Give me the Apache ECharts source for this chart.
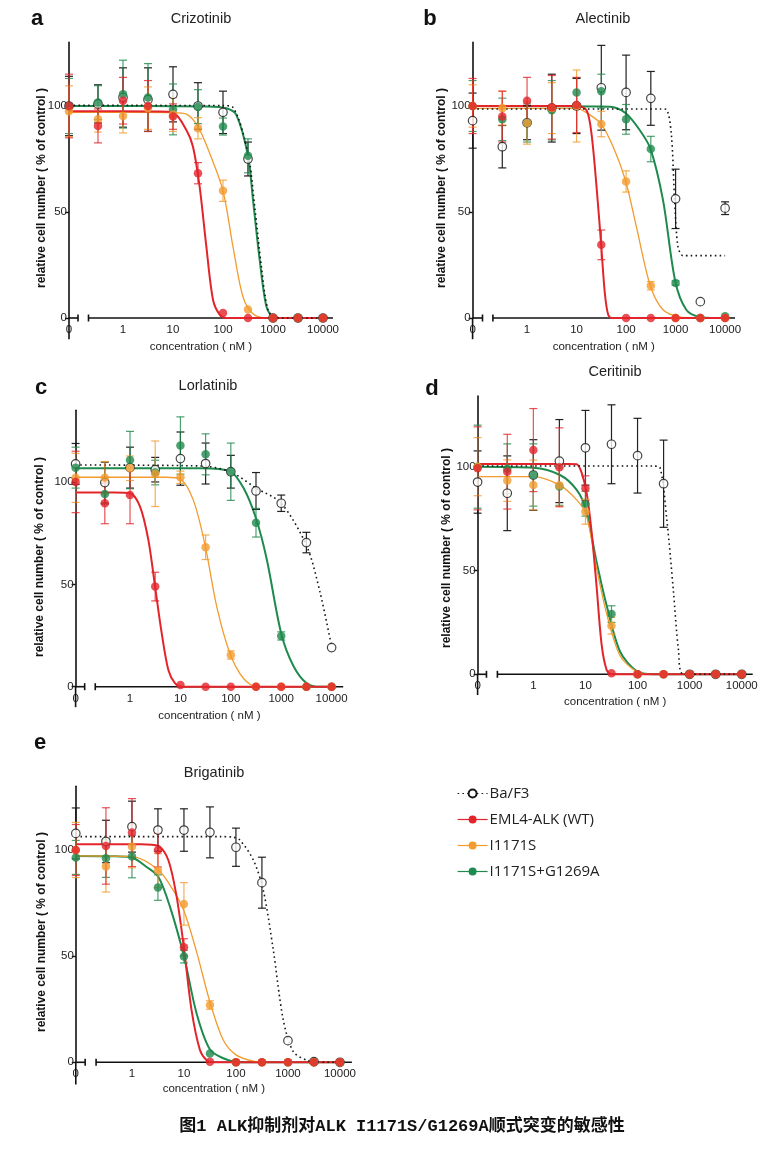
<!DOCTYPE html>
<html><head><meta charset="utf-8">
<script src="https://cdn.jsdelivr.net/npm/echarts@6/dist/echarts.min.js"></script>
<style>html,body{margin:0;padding:0;background:#fff}#c{width:773px;height:1162px}</style>
</head><body><div id="c"></div>
<script>
// ---------------- DATA ----------------
const doses = [0, 0.316, 1, 3.16, 10, 31.6, 100, 316, 1000, 3160, 10000]; // nM (0 = vehicle)
const panelLetters = ['a', 'b', 'c', 'd', 'e'];
const drugNames = ['Crizotinib', 'Alectinib', 'Lorlatinib', 'Ceritinib', 'Brigatinib'];
const seriesNames = ['Ba/F3', 'EML4-ALK (WT)', 'I1171S', 'I1171S+G1269A'];
const xTickDoses = [0, 1, 10, 100, 1000, 10000];
const yTickValues = [0, 50, 100];
const xAxisTitle = 'concentration ( nM )';
const yAxisTitle = 'relative cell number ( % of control )';
const caption = '图1 ALK抑制剂对ALK I1171S/G1269A顺式突变的敏感性';

// Panel a: Crizotinib
const aBaF3Mean = [100, 101, 104, 103, 105.5, 100, 97, 75, 0, 0, 0];
const aBaF3Sd   = [14, 9, 14, 15, 13, 11, 10, 8, 0, 0, 0];
const aWtMean   = [100, 90.6, 102.5, 100, 95, 68.3, 2.4, 0, 0, 0, 0];
const aWtSd     = [15, 8, 11, 12, 6, 5, 0, 0, 0, 0, 0];
const aSMean    = [97.5, 93.7, 95.3, 99, 96, 89.5, 60, 4, 0, 0, 0];
const aSSd      = [12, 6, 8, 10, 8, 5, 5, 0, 0, 0, 0];
const aSAMean   = [100, 101.6, 105.6, 104, 98.4, 99.7, 90.3, 76.5, 0, 0, 0];
const aSASd     = [13, 8, 16, 16, 12, 8, 4, 8, 0, 0, 0];
const aBaF3Fit = [[0,100.3],[100,100.2],[158,99.4],[316,77.7],[430,52.6],[585,24.3],[794,3.9],[1166,0],[10000,0]];
const aWtFit   = [[0,97.5],[5,97.4],[10,96.9],[18.5,88.7],[25.1,80.8],[34.1,62],[46.4,33.8],[63.1,8.6],[85.8,1.6],[117,0],[10000,0]];
const aSFit    = [[0,97],[10,96.9],[18.5,96.2],[31.6,90.3],[54.1,77.7],[100,60],[158,33.8],[251,10],[398,2],[736,0],[10000,0]];
const aSAFit   = [[0,100],[50,99.8],[117,98.9],[185,95.8],[316,76.5],[398,55.7],[541,27.5],[736,5.5],[1000,0.5],[1585,0],[10000,0]];

// Panel b: Alectinib
const bBaF3Mean = [93.1, 80.8, 92.1, 99, 100, 108.6, 106.4, 103.6, 56.2, 7.7, 51.8];
const bBaF3Sd   = [13, 10, 8, 16, 13, 20, 17.6, 12.7, 14, 0, 3];
const bWtMean   = [100, 95, 102.5, 99.4, 100.5, 34.5, 0, 0, 0, 0, 0];
const bWtSd     = [13, 12, 11, 15, 13, 7, 0, 0, 0, 0, 0];
const bSMean    = [100, 99, 92, 99, 100, 91.5, 64.4, 15.2, 0, 0, 0];
const bSSd      = [10, 8, 10, 12, 17, 6, 5, 2, 0, 0, 0];
const bSAMean   = [100, 93.7, 92, 98, 106.4, 107, 93.7, 79.7, 16.5, 0, 0.8];
const bSASd     = [12, 10, 9, 14, 7, 8, 7, 6, 1, 0, 0];
const bBaF3Fit = [[0,98.6],[500,98.6],[649,98.4],[818,87.1],[955,55.7],[1114,33.8],[1406,29.4],[2000,29.4],[10000,29.4]];
const bWtFit   = [[0,100],[10,100],[15.9,98],[20,87],[25.3,62],[31.4,34.5],[37.2,11.8],[43.4,1.6],[50.7,0],[10000,0]];
const bSFit    = [[0,98.9],[10,98.9],[18.5,95.8],[31.4,91.5],[54.7,80.8],[98.5,64.4],[161,43.2],[309,15.2],[556,3.9],[1202,0.5],[2606,0],[10000,0]];
const bSAFit   = [[0,100],[46.9,99.7],[98.5,96.6],[188,88.7],[309,80],[556,55.7],[984,17.3],[1641,3.9],[3041,0.5],[6590,0],[10000,0]];

// Panel c: Lorlatinib
const cBaF3Mean = [108.8, 99.7, 107, 106, 111.4, 109, 105, 95.6, 89.6, 70.4, 19.1];
const cBaF3Sd   = [10, 10, 10, 6, 13, 10, 8, 9, 4, 5, 0];
const cWtMean   = [100, 89.6, 93.6, 48.9, 0.8, 0, 0, 0, 0, 0, 0];
const cWtSd     = [15, 10, 14, 7, 0, 0, 0, 0, 0, 0, 0];
const cSMean    = [102, 102, 106.7, 104, 102.3, 68.1, 15.5, 0, 0, 0, 0];
const cSSd      = [12, 8, 6, 16, 3, 6, 2, 0, 0, 0, 0];
const cSAMean   = [107, 94.1, 110.7, 104.6, 117.8, 113.5, 105, 80.1, 24.8, 0, 0];
const cSASd     = [10, 5, 14, 6, 14, 10, 14, 7, 2, 0, 0];
const cBaF3Fit = [[0,108.3],[24.6,107.8],[97,105],[318,97],[1000,89.6],[3236,68.4],[5957,45.6],[10000,19.5]];
const cWtFit   = [[0,94.8],[0.5,94.8],[1,94.5],[1.58,88],[2.31,71.7],[3.14,48.9],[4.26,26],[5.78,8],[7.84,1.6],[10.6,0],[10000,0]];
const cSFit    = [[0,102.3],[5.35,102.3],[9.85,101.5],[18.1,91],[30.9,69],[52.7,39],[97,16],[179,4],[329,0],[10000,0]];
const cSAFit   = [[0,106.7],[24.6,106.7],[97,105.2],[179,97],[318,82],[519,62],[1000,26],[1758,10],[3236,1.6],[5957,0],[10000,0]];

// Panel d: Ceritinib
const dBaF3Mean = [92.6, 87.2, 96, 102.7, 109.1, 110.8, 105.3, 91.8, 0, 0, 0];
const dBaF3Sd   = [15, 18, 17, 20, 18, 19, 18, 21, 0, 0, 0];
const dWtMean   = [99.2, 97.6, 108, 99.7, 89.6, 0.5, 0, 0, 0, 0, 0];
const dWtSd     = [20, 18, 20, 19, 6, 0, 0, 0, 0, 0, 0];
const dSMean    = [100, 93.3, 91.2, 91, 78.3, 23.4, 0, 0, 0, 0, 0];
const dSSd      = [14, 10, 12, 10, 6, 4, 0, 0, 0, 0, 0];
const dSAMean   = [100, 99, 96, 90.4, 82.2, 29, 0, 0, 0, 0, 0];
const dSASd     = [20, 12, 15, 9, 6, 4, 0, 0, 0, 0, 0];
const dBaF3Fit = [[0,100.3],[200,100.3],[270,99.5],[363,75],[488,40],[608,12],[759,0],[10000,0]];
const dWtFit   = [[0,101.3],[5,101.3],[6.79,101.2],[8.47,97],[10.6,87],[13.2,68],[16.4,42],[20.5,14],[25.6,2],[31.9,0],[10000,0]];
const dSFit    = [[0,95.2],[1,95.2],[3.25,91],[6.79,84],[10.3,77],[16.4,51],[25.6,29],[46.1,9],[96.4,1.3],[201,0],[10000,0]];
const dSAFit   = [[0,100],[1,99.5],[3.25,96],[6.79,88.8],[10.3,79],[16.4,54],[25.6,33],[46.1,11],[96.4,1.5],[201,0],[10000,0]];

// Panel e: Brigatinib
const eBaF3Mean = [107.8, 104, 111, 109.4, 109.4, 108.3, 101.3, 84.6, 10.2, 0.3, 0];
const eBaF3Sd   = [12, 10, 12, 10, 10, 12, 9, 12, 0, 0, 0];
const eWtMean   = [100, 101.9, 108.2, 100, 54.2, 0.3, 0, 0, 0, 0, 0];
const eWtSd     = [12, 18, 16, 8, 4, 0, 0, 0, 0, 0, 0];
const eSMean    = [100, 92.2, 101.6, 90.3, 74.6, 27, 0, 0, 0, 0, 0];
const eSSd      = [13, 12, 10, 8, 10, 2, 0, 0, 0, 0, 0];
const eSAMean   = [96.5, 96.1, 96.9, 82.3, 49.8, 4.2, 0, 0, 0, 0, 0];
const eSASd     = [8, 9, 10, 6, 3, 0, 0, 0, 0, 0, 0];
const eBaF3Fit = [[0,106.3],[50,106.3],[88.9,106],[119,104.7],[216,95.3],[336,81],[522,53],[813,20],[1267,5],[2286,1],[3556,0],[10000,0]];
const eWtFit   = [[0,102.7],[1.5,102.7],[3.21,101.9],[5.0,95.3],[7.23,78],[10.1,53],[14.0,24.6],[20.3,5.8],[27.3,1],[36.6,0],[10000,0]];
const eSFit    = [[0,97.2],[1,96.9],[3.21,90.6],[6.24,81],[10.1,71],[17.5,52],[32.1,27.8],[57,10.5],[100,3.5],[216,0.5],[389,0],[10000,0]];
const eSAFit   = [[0,97.2],[0.5,97],[1,96.5],[1.91,92],[3.21,87.4],[5.38,73.3],[10.1,49.5],[17.5,23],[31.6,6],[57,1.9],[119,0],[10000,0]];

// ---------------- LAYOUT / STYLE ----------------
const panelData = [
  {baf3:[aBaF3Mean,aBaF3Sd,aBaF3Fit], wt:[aWtMean,aWtSd,aWtFit], s:[aSMean,aSSd,aSFit], sa:[aSAMean,aSASd,aSAFit]},
  {baf3:[bBaF3Mean,bBaF3Sd,bBaF3Fit], wt:[bWtMean,bWtSd,bWtFit], s:[bSMean,bSSd,bSFit], sa:[bSAMean,bSASd,bSAFit]},
  {baf3:[cBaF3Mean,cBaF3Sd,cBaF3Fit], wt:[cWtMean,cWtSd,cWtFit], s:[cSMean,cSSd,cSFit], sa:[cSAMean,cSASd,cSAFit]},
  {baf3:[dBaF3Mean,dBaF3Sd,dBaF3Fit], wt:[dWtMean,dWtSd,dWtFit], s:[dSMean,dSSd,dSFit], sa:[dSAMean,dSASd,dSAFit]},
  {baf3:[eBaF3Mean,eBaF3Sd,eBaF3Fit], wt:[eWtMean,eWtSd,eWtFit], s:[eSMean,eSSd,eSFit], sa:[eSAMean,eSASd,eSAFit]}
];
// grid bottom = y value 0 (the x axis); the y-axis line is extended below it to yExt
const layout = [
  {left:69,    top:42.4,  width:264,   height:275.6, xMin:-1.08, xMax:4.2,  yMax:130, yExt:-10, xNameGap:23, yName:[41.5,188], letter:[37,19],   title:[201,19]},
  {left:472.6, top:42.4,  width:262.4, height:275.6, xMin:-1.10, xMax:4.2,  yMax:130, yExt:-10, xNameGap:23, yName:[442,188],  letter:[430,19],  title:[603,19]},
  {left:75.6,  top:410.3, width:267.6, height:276.4, xMin:-1.08, xMax:4.23, yMax:135, yExt:-10, xNameGap:23, yName:[40,557],   letter:[41,387.5],title:[208,385.7]},
  {left:477.6, top:396.1, width:275.1, height:278.2, xMin:-1.07, xMax:4.21, yMax:134, yExt:-10, xNameGap:22, yName:[447,548],  letter:[432,389], title:[615,372.3]},
  {left:75.8,  top:786.3, width:276.1, height:276,   xMin:-1.08, xMax:4.23, yMax:130, yExt:-10.5, xNameGap:21, yName:[42,932], letter:[40,742.5],title:[214,773.3]}
];
const BREAK_LO = -0.9, BREAK_HI = -0.69;
const FONT = "'Liberation Sans', Arial, sans-serif";
const STYLE = {
  baf3: {color:'#161616', width:1.6, dash:[1.6, 3.2], open:true},
  wt:   {color:'#e3242b', width:2.0},
  s:    {color:'#f29b2e', width:1.3},
  sa:   {color:'#1f8a4d', width:2.0}
};
const CURVE_KEYS = ['sa', 's', 'wt', 'baf3'];
const POINT_KEYS = ['baf3', 'sa', 's', 'wt'];
const NAME_OF = {baf3:seriesNames[0], wt:seriesNames[1], s:seriesNames[2], sa:seriesNames[3]};

function toX(c, p) { return c === 0 ? p.xMin : Math.log10(c); }

const grids = [], xAxes = [], yAxes = [], series = [], graphics = [];

layout.forEach((p, i) => {
  const d = panelData[i];
  grids.push({left:p.left, top:p.top, width:p.width, height:p.height});
  const xTickPos = xTickDoses.map(c => toX(c, p));
  xAxes.push({
    type:'value', gridIndex:i, min:p.xMin, max:p.xMax,
    axisLine:{show:false}, axisTick:{show:false}, splitLine:{show:false},
    axisLabel:{customValues:xTickPos, margin:6, fontSize:11.5, color:'#222', fontFamily:FONT,
      formatter:(v) => { let best = 0; xTickPos.forEach((t, k) => { if (Math.abs(t - v) < Math.abs(xTickPos[best] - v)) best = k; }); return String(xTickDoses[best]); }},
    name:xAxisTitle, nameLocation:'middle', nameGap:p.xNameGap,
    nameTextStyle:{fontSize:11.5, color:'#222', fontFamily:FONT}
  });
  yAxes.push({
    type:'value', gridIndex:i, min:0, max:p.yMax,
    axisLine:{show:true, onZero:false, lineStyle:{color:'#111', width:1.6}},
    axisTick:{show:true, customValues:yTickValues, length:4, lineStyle:{color:'#111', width:1.4}},
    axisLabel:{customValues:yTickValues, margin:2, fontSize:11.5, color:'#222', fontFamily:FONT},
    splitLine:{show:false}
  });
  // broken x axis line + y axis extension below zero
  series.push({
    type:'custom', name:'axis'+i, xAxisIndex:i, yAxisIndex:i, silent:true, z:1,
    data:[[p.xMin, 0]], encode:{x:0, y:1},
    renderItem:(params, api) => {
      const a = api.coord([p.xMin, 0]), b = api.coord([BREAK_LO, 0]), c = api.coord([BREAK_HI, 0]), e = api.coord([p.xMax, 0]);
      const f = api.coord([p.xMin, p.yExt]);
      const st = {stroke:'#111', lineWidth:1.6};
      return {type:'group', children:[
        {type:'line', shape:{x1:a[0], y1:a[1], x2:f[0], y2:f[1]}, style:st},
        {type:'line', shape:{x1:a[0], y1:a[1], x2:b[0], y2:b[1]}, style:st},
        {type:'line', shape:{x1:b[0], y1:b[1]-3.5, x2:b[0], y2:b[1]+3.5}, style:st},
        {type:'line', shape:{x1:c[0], y1:c[1]-3.5, x2:c[0], y2:c[1]+3.5}, style:st},
        {type:'line', shape:{x1:c[0], y1:c[1], x2:e[0], y2:e[1]}, style:st}
      ]};
    }
  });
  // fitted curves
  CURVE_KEYS.forEach(k => {
    const st = STYLE[k];
    series.push({
      type:'line', name:NAME_OF[k], xAxisIndex:i, yAxisIndex:i, z:2, clip:false,
      data:d[k][2].map(q => [toX(q[0], p), q[1]]),
      smooth:0.3, showSymbol:false, symbol:'circle', symbolSize:7,
      itemStyle: st.open ? {color:'#fff', borderColor:st.color, borderWidth:1.2} : {color:st.color},
      lineStyle:{color:st.color, width:st.width, type: st.dash ? st.dash : 'solid'},
      emphasis:{disabled:true}
    });
  });
  // error bars
  POINT_KEYS.forEach(k => {
    const st = STYLE[k];
    const mean = d[k][0], sd = d[k][1];
    const data = [];
    doses.forEach((c, j) => { if (sd[j] > 0) data.push([toX(c, p), mean[j] - sd[j], mean[j] + sd[j]]); });
    series.push({
      type:'custom', name:NAME_OF[k]+' sd'+i, xAxisIndex:i, yAxisIndex:i, z:3, silent:true,
      data, encode:{x:0, y:[1, 2]},
      renderItem:(params, api) => {
        const lo = api.coord([api.value(0), api.value(1)]), hi = api.coord([api.value(0), api.value(2)]);
        const hw = 4;
        const s = {stroke:st.color, lineWidth:1.2, opacity: st.open ? 0.95 : 0.8};
        return {type:'group', children:[
          {type:'line', shape:{x1:lo[0], y1:lo[1], x2:hi[0], y2:hi[1]}, style:s},
          {type:'line', shape:{x1:lo[0]-hw, y1:lo[1], x2:lo[0]+hw, y2:lo[1]}, style:s},
          {type:'line', shape:{x1:hi[0]-hw, y1:hi[1], x2:hi[0]+hw, y2:hi[1]}, style:s}
        ]};
      }
    });
  });
  // points
  POINT_KEYS.forEach(k => {
    const st = STYLE[k];
    series.push({
      type:'scatter', name:NAME_OF[k]+' pts'+i, xAxisIndex:i, yAxisIndex:i, z:4, clip:false,
      data:doses.map((c, j) => [toX(c, p), d[k][0][j]]),
      symbol:'circle', symbolSize:8.5,
      itemStyle: st.open ? {color:'#fff', borderColor:st.color, borderWidth:1.2} : {color:st.color},
      emphasis:{disabled:true}
    });
  });
  graphics.push({type:'text', x:p.letter[0], y:p.letter[1], style:{text:panelLetters[i], font:"bold 22px " + FONT, fill:'#111', align:'center', verticalAlign:'middle'}});
  graphics.push({type:'text', x:p.title[0], y:p.title[1], style:{text:drugNames[i], font:"14.5px " + FONT, fill:'#222', align:'center', verticalAlign:'middle'}});
  graphics.push({type:'text', x:p.yName[0], y:p.yName[1], rotation:Math.PI / 2, style:{text:yAxisTitle, font:"bold 12px " + FONT, fill:'#111', align:'center', verticalAlign:'middle'}});
});

graphics.push({type:'text', x:402, y:1127, style:{text:caption, font:"bold 17px 'Liberation Mono', 'Noto Sans CJK SC', monospace", fill:'#111', align:'center', verticalAlign:'middle'}});

const chart = echarts.init(document.getElementById('c'), null, {renderer:'canvas'});
chart.setOption({
  animation:false,
  backgroundColor:'#fff',
  textStyle:{fontFamily:FONT},
  grid:grids, xAxis:xAxes, yAxis:yAxes, series,
  legend:{
    data:seriesNames, orient:'vertical', left:457, top:786, padding:0, itemGap:11,
    itemWidth:30, itemHeight:10, selectedMode:false,
    lineStyle:{width:1.2},
    textStyle:{fontSize:15, color:'#222', fontFamily:"'Open Sans', 'Noto Sans', sans-serif", lineHeight:14, padding:[0,0,0,-3]}
  },
  graphic:graphics
});
</script></body></html>
